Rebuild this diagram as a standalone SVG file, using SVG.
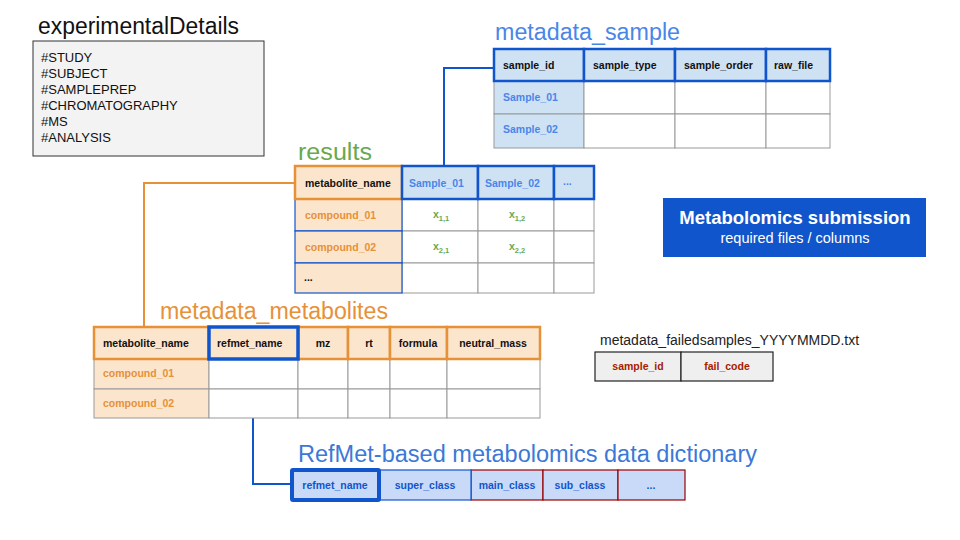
<svg xmlns="http://www.w3.org/2000/svg" width="960" height="540" viewBox="0 0 960 540">
<style>
.title{font-family:"Liberation Sans",Arial,sans-serif;font-size:23px}
.t{font-family:"Liberation Sans",Arial,sans-serif;font-size:10.5px;font-weight:bold}
.grid{fill:#ffffff;stroke:#999999;stroke-width:1}
.bluehead{fill:#cfe2f3;stroke:#1155cc;stroke-width:2.5}
.orhead{fill:#fce5cd;stroke:#e69138;stroke-width:2.5}
.orcell{fill:#fce5cd;stroke:#999999;stroke-width:1}
.bluecell{fill:#cfe2f3;stroke:#999999;stroke-width:1}
.conn{fill:none;stroke-width:2}
.dk{fill:#111111}
.bl{fill:#4a86e8}
.or{fill:#e69138}
.gr{fill:#6aa84f}
.rf{fill:#1155cc}
.rd{fill:#a61c00}
.c{text-anchor:middle}
</style>
<rect width="960" height="540" fill="#ffffff"/>

<g id="connectors">
<path class="conn" stroke="#e69138" d="M295,183 H144 V327"/>
<path class="conn" stroke="#1155cc" d="M444,166 V68 H494"/>
<path class="conn" stroke="#1155cc" d="M253,359 V484 H292"/>
</g>

<g id="experimentalDetails">
<text class="title" x="38" y="34" fill="#111111" textLength="201" lengthAdjust="spacingAndGlyphs">experimentalDetails</text>
<rect x="33" y="41" width="231" height="115" fill="#f3f3f3" stroke="#333333" stroke-width="1"/>
<g font-family="Liberation Sans,Arial,sans-serif" font-size="13" fill="#111111">
<text x="41" y="62">#STUDY</text>
<text x="41" y="78">#SUBJECT</text>
<text x="41" y="94">#SAMPLEPREP</text>
<text x="41" y="110">#CHROMATOGRAPHY</text>
<text x="41" y="126">#MS</text>
<text x="41" y="142">#ANALYSIS</text>
</g>
</g>

<g id="metadata_sample">
<text class="title" x="495" y="40" fill="#4a86e8" textLength="185" lengthAdjust="spacingAndGlyphs">metadata_sample</text>
<rect class="bluecell" x="494" y="81" width="90" height="33"/>
<rect class="grid" x="584" y="81" width="91" height="33"/>
<rect class="grid" x="675" y="81" width="91" height="33"/>
<rect class="grid" x="766" y="81" width="64" height="33"/>
<rect class="bluecell" x="494" y="114" width="90" height="34"/>
<rect class="grid" x="584" y="114" width="91" height="34"/>
<rect class="grid" x="675" y="114" width="91" height="34"/>
<rect class="grid" x="766" y="114" width="64" height="34"/>
<rect class="bluehead" x="494" y="49" width="90" height="32"/>
<rect class="bluehead" x="584" y="49" width="91" height="32"/>
<rect class="bluehead" x="675" y="49" width="91" height="32"/>
<rect class="bluehead" x="766" y="49" width="64" height="32"/>
<text class="t dk" x="503" y="69">sample_id</text>
<text class="t dk" x="593" y="69">sample_type</text>
<text class="t dk" x="684" y="69">sample_order</text>
<text class="t dk" x="774" y="69">raw_file</text>
<text class="t bl" x="503" y="101">Sample_01</text>
<text class="t bl" x="503" y="133">Sample_02</text>
</g>

<g id="results">
<text class="title" x="298" y="160" fill="#6aa84f" textLength="74" lengthAdjust="spacingAndGlyphs">results</text>
<rect class="grid" x="402" y="199" width="76" height="32"/>
<rect class="grid" x="478" y="199" width="76" height="32"/>
<rect class="grid" x="554" y="199" width="40" height="32"/>
<rect class="grid" x="402" y="231" width="76" height="32"/>
<rect class="grid" x="478" y="231" width="76" height="32"/>
<rect class="grid" x="554" y="231" width="40" height="32"/>
<rect class="grid" x="402" y="263" width="76" height="30"/>
<rect class="grid" x="478" y="263" width="76" height="30"/>
<rect class="grid" x="554" y="263" width="40" height="30"/>
<rect x="295" y="199" width="107" height="32" fill="#fce5cd" stroke="#1155cc" stroke-width="1.2"/>
<rect x="295" y="231" width="107" height="32" fill="#fce5cd" stroke="#1155cc" stroke-width="1.2"/>
<rect x="295" y="263" width="107" height="30" fill="#fce5cd" stroke="#1155cc" stroke-width="1.2"/>
<rect class="orhead" x="295" y="166" width="107" height="33"/>
<rect class="bluehead" x="402" y="166" width="76" height="33"/>
<rect class="bluehead" x="478" y="166" width="76" height="33"/>
<rect class="bluehead" x="554" y="166" width="40" height="33"/>
<text class="t dk" x="305" y="187">metabolite_name</text>
<text class="t bl" x="409" y="187">Sample_01</text>
<text class="t bl" x="485" y="187">Sample_02</text>
<text class="t bl" x="563" y="185" font-size="7" font-weight="normal">...</text>
<text class="t or" x="305" y="219">compound_01</text>
<text class="t or" x="305" y="251">compound_02</text>
<text class="t dk" x="304" y="281" font-weight="normal">...</text>
<text class="t gr" x="433" y="218">x<tspan font-size="7.5" dy="3">1,1</tspan></text>
<text class="t gr" x="509" y="218">x<tspan font-size="7.5" dy="3">1,2</tspan></text>
<text class="t gr" x="433" y="250">x<tspan font-size="7.5" dy="3">2,1</tspan></text>
<text class="t gr" x="509" y="250">x<tspan font-size="7.5" dy="3">2,2</tspan></text>
</g>

<g id="submission">
<rect x="663" y="198" width="263" height="59" fill="#1155cc"/>
<text x="795" y="224" text-anchor="middle" font-family="Liberation Sans,Arial,sans-serif" font-size="18.5" font-weight="bold" fill="#ffffff">Metabolomics submission</text>
<text x="795" y="243" text-anchor="middle" font-family="Liberation Sans,Arial,sans-serif" font-size="14.5" fill="#ffffff">required files / columns</text>
</g>

<g id="metadata_metabolites">
<text class="title" x="160" y="319" fill="#e69138" textLength="228" lengthAdjust="spacingAndGlyphs">metadata_metabolites</text>
<rect class="orcell" x="94" y="359" width="115" height="30"/>
<rect class="grid" x="209" y="359" width="89" height="30"/>
<rect class="grid" x="298" y="359" width="50" height="30"/>
<rect class="grid" x="348" y="359" width="42" height="30"/>
<rect class="grid" x="390" y="359" width="57" height="30"/>
<rect class="grid" x="447" y="359" width="93" height="30"/>
<rect class="orcell" x="94" y="389" width="115" height="29"/>
<rect class="grid" x="209" y="389" width="89" height="29"/>
<rect class="grid" x="298" y="389" width="50" height="29"/>
<rect class="grid" x="348" y="389" width="42" height="29"/>
<rect class="grid" x="390" y="389" width="57" height="29"/>
<rect class="grid" x="447" y="389" width="93" height="29"/>
<rect class="orhead" x="94" y="327" width="115" height="32"/>
<rect class="orhead" x="298" y="327" width="50" height="32"/>
<rect class="orhead" x="348" y="327" width="42" height="32"/>
<rect class="orhead" x="390" y="327" width="57" height="32"/>
<rect class="orhead" x="447" y="327" width="93" height="32"/>
<rect x="209" y="327" width="89" height="32" fill="#fce5cd" stroke="#1155cc" stroke-width="3.5"/>
<text class="t dk" x="103" y="347">metabolite_name</text>
<text class="t dk" x="217" y="347">refmet_name</text>
<text class="t dk c" x="323" y="347">mz</text>
<text class="t dk c" x="369" y="347">rt</text>
<text class="t dk c" x="418" y="347">formula</text>
<text class="t dk c" x="493" y="347">neutral_mass</text>
<text class="t or" x="103" y="377">compound_01</text>
<text class="t or" x="103" y="407">compound_02</text>
</g>

<g id="failedsamples">
<text x="600" y="345" font-family="Liberation Sans,Arial,sans-serif" font-size="14" fill="#222222">metadata_failedsamples_YYYYMMDD.txt</text>
<rect x="595" y="352" width="86" height="29" fill="#efefef" stroke="#222222" stroke-width="1.2"/>
<rect x="681" y="352" width="92" height="29" fill="#efefef" stroke="#222222" stroke-width="1.2"/>
<text class="t rd c" x="638" y="370">sample_id</text>
<text class="t rd c" x="727" y="370">fail_code</text>
</g>

<g id="refmet_dictionary">
<text class="title" x="298" y="462" fill="#3c78d8" textLength="459" lengthAdjust="spacingAndGlyphs">RefMet-based metabolomics data dictionary</text>
<rect x="471" y="470" width="72" height="30" fill="#c9daf8" stroke="#990000" stroke-width="1.2"/>
<rect x="543" y="470" width="75" height="30" fill="#c9daf8" stroke="#990000" stroke-width="1.2"/>
<rect x="618" y="470" width="67" height="30" fill="#c9daf8" stroke="#990000" stroke-width="1.2"/>
<rect x="379" y="470" width="92" height="30" fill="#c9daf8" stroke="#1155cc" stroke-width="1.2"/>
<rect x="292" y="470" width="87" height="30" fill="#c9daf8" stroke="#1155cc" stroke-width="4" rx="1"/>
<text class="t rf c" x="335" y="489">refmet_name</text>
<text class="t rf c" x="425" y="489">super_class</text>
<text class="t rf c" x="507" y="489">main_class</text>
<text class="t rf c" x="580" y="489">sub_class</text>
<text class="t rf c" x="651" y="489">...</text>
</g>
</svg>
